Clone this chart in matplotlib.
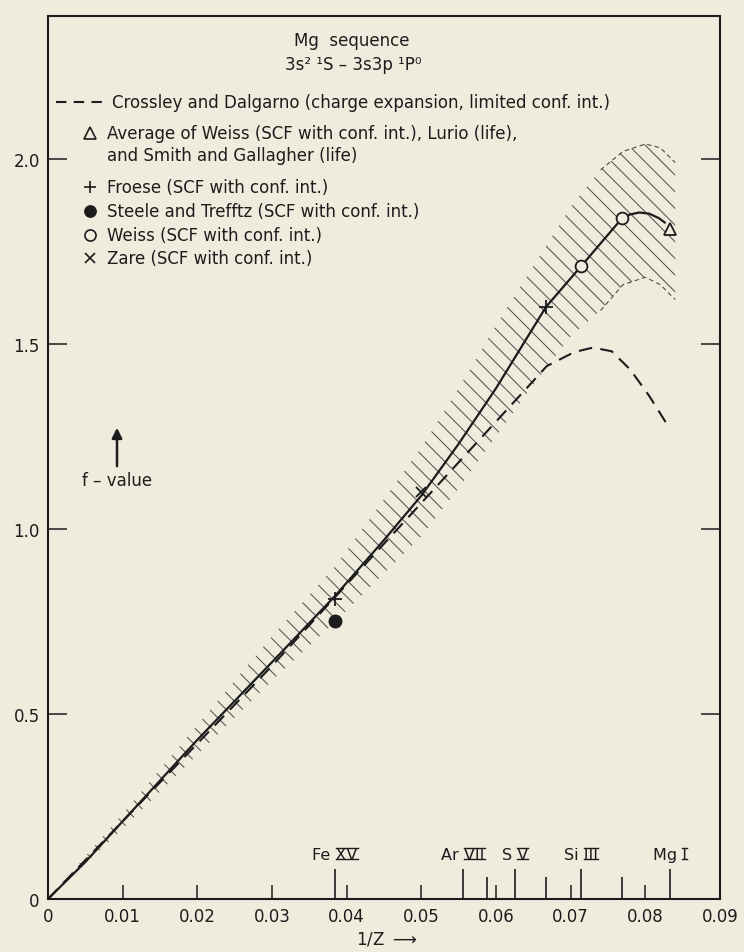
import matplotlib
matplotlib.use('Agg')
import matplotlib.pyplot as plt
from matplotlib.lines import Line2D

# shaded band of probable f-values
band_x = [0, 0.01, 0.02, 0.03, 0.0385, 0.045, 0.05, 0.055, 0.06, 0.065, 0.07, 0.074, 0.077, 0.080, 0.082, 0.084]
band_upper = [0, 0.23, 0.47, 0.71, 0.90, 1.08, 1.22, 1.38, 1.55, 1.71, 1.87, 1.97, 2.02, 2.04, 2.03, 1.99]
band_lower = [0, 0.19, 0.39, 0.59, 0.75, 0.88, 0.98, 1.11, 1.25, 1.39, 1.52, 1.59, 1.66, 1.68, 1.66, 1.62]

# solid curve through the data
curve_x = [0, 0.005, 0.01, 0.02, 0.03, 0.0385, 0.045, 0.05, 0.055, 0.06, 0.0667, 0.0714,
           0.0769, 0.078, 0.0792, 0.0805, 0.0818, 0.0826]
curve_f = [0, 0.10, 0.21, 0.43, 0.64, 0.82, 0.97, 1.09, 1.23, 1.38, 1.60, 1.71,
           1.84, 1.85, 1.855, 1.852, 1.84, 1.828]

# Crossley and Dalgarno (charge expansion)
cd_x = [0, 0.01, 0.02, 0.03, 0.04, 0.045, 0.05, 0.055, 0.06, 0.065, 0.0668, 0.0705,
        0.073, 0.0755, 0.078, 0.0805, 0.0833]
cd_f = [0, 0.21, 0.42, 0.63, 0.85, 0.96, 1.07, 1.18, 1.29, 1.40, 1.44, 1.478,
        1.49, 1.48, 1.43, 1.36, 1.27]

# individual results
avg_x, avg_f = [1 / 12], [1.81]
froese_x, froese_f = [1 / 26, 1 / 15], [0.81, 1.60]
steele_x, steele_f = [1 / 26], [0.75]
weiss_x, weiss_f = [1 / 14, 1 / 13], [1.71, 1.84]
zare_x, zare_f = [1 / 20], [1.10]

# ions of the sequence marked on the 1/Z axis
ion_z = [26, 18, 16, 14, 12]
ion_elem = ['Fe', 'Ar', 'S', 'Si', 'Mg']
ion_num = ['XV', 'VII', 'V', 'III', 'I']
other_z = [17, 15, 13]

xticks = [0, 0.01, 0.02, 0.03, 0.04, 0.05, 0.06, 0.07, 0.08, 0.09]
xticklabels = ['0', '0.01', '0.02', '0.03', '0.04', '0.05', '0.06', '0.07', '0.08', '0.09']
yticks = [0, 0.5, 1.0, 1.5, 2.0]
yticklabels = ['0', '0.5', '1.0', '1.5', '2.0']

bg = '#efecdd'
ink = '#1c1c1c'
W, H = 744, 953

plt.rcParams['font.family'] = ['DejaVu Sans']
plt.rcParams['hatch.linewidth'] = 0.7
plt.rcParams['hatch.color'] = '#4a4a4a'


def px(x, y):
    return x / W, 1 - y / H


fig = plt.figure(figsize=(W / 100, H / 100), dpi=100, facecolor=bg)
ax = fig.add_axes([48 / W, 1 - 900 / H, 672 / W, 883 / H], facecolor=bg)
ax.set_xlim(0, 0.09)
ax.set_ylim(0, 2.386)

ax.fill_between(band_x, band_lower, band_upper, facecolor='none', edgecolor='#4a4a4a',
                hatch='\\\\', linewidth=0)
# dashed edges of the band where it is extrapolated
ax.plot(band_x[-5:], band_upper[-5:], color='#4a4a4a', lw=0.8, ls=(0, (4, 3)))
ax.plot(band_x[-5:], band_lower[-5:], color='#4a4a4a', lw=0.8, ls=(0, (4, 3)))

ax.plot(curve_x, curve_f, color=ink, lw=1.6)
ax.plot(cd_x, cd_f, color=ink, lw=1.5, ls=(0, (6.5, 4)))

ax.plot(avg_x, avg_f, ls='none', marker='^', ms=8, mfc=bg, mec=ink, mew=1.3)
ax.plot(froese_x, froese_f, ls='none', marker='+', ms=10, mec=ink, mew=1.3)
ax.plot(steele_x, steele_f, ls='none', marker='o', ms=9, mfc=ink, mec=ink)
ax.plot(weiss_x, weiss_f, ls='none', marker='o', ms=8.5, mfc=bg, mec=ink, mew=1.3)
ax.plot(zare_x, zare_f, ls='none', marker='x', ms=7, mec=ink, mew=1.3)

for s in ax.spines.values():
    s.set_linewidth(1.5)
    s.set_color(ink)

ax.set_xticks(xticks)
ax.set_xticklabels(xticklabels)
ax.set_yticks(yticks)
ax.set_yticklabels(yticklabels)
ax.tick_params(axis='x', direction='in', length=10, width=1.1, pad=6, labelsize=12, colors=ink)
ax.tick_params(axis='y', direction='in', length=13.5, width=1.1, pad=6, labelsize=12,
               colors=ink, right=True)

# ion markers on the 1/Z axis
tr = ax.get_xaxis_transform()
ion_x = [1 / z for z in ion_z]
ax.vlines(ion_x, 0, 0.034, transform=tr, color=ink, lw=1.2)
ax.vlines([1 / z for z in other_z], 0, 0.025, transform=tr, color=ink, lw=1.2)

labels = []
for x, el, num in zip(ion_x, ion_elem, ion_num):
    t = ax.text(x, 0.045, el + ' ' + num, transform=tr, ha='center', va='baseline',
                fontsize=11.5, color=ink)
    m = ax.text(x, 0.045, num, transform=tr, ha='center', va='baseline', fontsize=11.5)
    labels.append((t, m))

fig.canvas.draw()
r = fig.canvas.get_renderer()
inv = fig.transFigure.inverted()
for t, m in labels:
    bb = t.get_window_extent(r)
    wn = m.get_window_extent(r).width
    m.remove()
    x1 = bb.x1
    x0 = x1 - wn
    for yy in (bb.y0 + 0.22 * bb.height, bb.y1 - 0.08 * bb.height):
        (a, b), (c, d) = inv.transform([(x0, yy), (x1, yy)])
        fig.add_artist(Line2D([a, c], [b, d], color=ink, lw=1.0))

# title and key
fs = 12
fig.text(*px(352, 41), 'Mg  sequence', ha='center', va='center', fontsize=fs, color=ink)
fig.text(*px(353, 65), '3s² ¹S – 3s3p ¹P⁰', ha='center', va='center', fontsize=fs, color=ink)

fig.add_artist(Line2D([56 / W, 108 / W], [1 - 103 / H] * 2, color=ink, lw=1.5,
                      ls=(0, (5, 3.5))))
fig.text(*px(112, 103), 'Crossley and Dalgarno (charge expansion, limited conf. int.)',
         va='center', fontsize=fs, color=ink)

key = [
    ('^', bg, 134, 'Average of Weiss (SCF with conf. int.), Lurio (life),'),
    ('+', ink, 188, 'Froese (SCF with conf. int.)'),
    ('o', ink, 212, 'Steele and Trefftz (SCF with conf. int.)'),
    ('o', bg, 236, 'Weiss (SCF with conf. int.)'),
    ('x', ink, 259, 'Zare (SCF with conf. int.)'),
]
for mk, fc, y, txt in key:
    fig.add_artist(Line2D([90 / W], [1 - y / H], marker=mk, ms=8 if mk != 'x' else 6.5,
                          mfc=fc, mec=ink, mew=1.2, ls='none'))
    fig.text(*px(107, y), txt, va='center', fontsize=fs, color=ink)
fig.text(*px(107, 156), 'and Smith and Gallagher (life)', va='center', fontsize=fs, color=ink)

# axis captions
fig.text(*px(117, 481), 'f – value', ha='center', va='center', fontsize=fs, color=ink)
fig.add_artist(plt.Annotation('', xy=px(117, 426), xytext=px(117, 470),
                              xycoords='figure fraction', textcoords='figure fraction',
                              arrowprops=dict(arrowstyle='-|>', color=ink, lw=1.8,
                                              mutation_scale=15)))
fig.text(*px(387, 940), '1/Z $\\longrightarrow$', ha='center', va='center', fontsize=12,
         color=ink)

fig.savefig('out.png', dpi=100, facecolor=bg)
